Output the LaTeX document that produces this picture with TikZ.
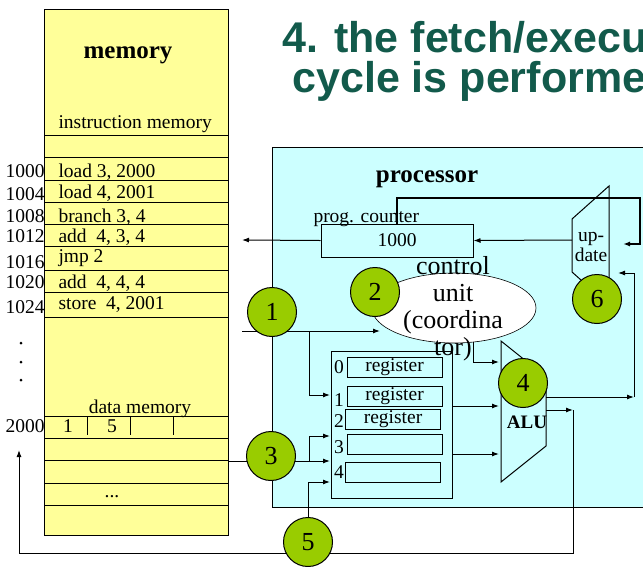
\documentclass[tikz,border=0pt]{standalone}
\usepackage{fontspec}
\setmainfont{Liberation Serif}
\newfontfamily\titlefont{Liberation Sans}
\usepackage{tikz}
\usetikzlibrary{positioning, arrows.meta, shapes.geometric}
\definecolor{memyellow}{HTML}{FFFF99}
\definecolor{procblue}{HTML}{CCFFFF}
\definecolor{stepgreen}{HTML}{99CC00}
\definecolor{titlegreen}{HTML}{125A4B}

\begin{document}
\begin{tikzpicture}[x=1pt, y=-1pt, line width=1pt, >={Latex[length=7pt,width=5pt]},
    txt/.style={inner sep=0pt, font=\fontsize{19.5}{20}\selectfont},
    head/.style={inner sep=0pt, font=\fontsize{25}{25}\selectfont\bfseries},
    stepno/.style={circle, draw, fill=stepgreen, minimum size=49pt, inner sep=0pt, font=\fontsize{26}{26}\selectfont},
    regbox/.style={draw, minimum width=95pt, minimum height=20pt, inner sep=0pt, font=\fontsize{19.5}{20}\selectfont}]
    \useasboundingbox (0,0) rectangle (643,566);
    \clip (0,0) rectangle (643,566);

    % step positions
    \coordinate (c1) at (272,312);
    \coordinate (c2) at (375,292);
    \coordinate (c3) at (271,456);
    \coordinate (c4) at (523,383);
    \coordinate (c5) at (308,542);
    \coordinate (c6) at (597,299);

    \node[anchor=base west, inner sep=0pt, text=titlegreen, font=\titlefont\fontsize{43}{43}\selectfont\bfseries] (title1) at (282,52) {4. the fetch/execute};
    \node[anchor=base west, inner sep=0pt, text=titlegreen, font=\titlefont\fontsize{43}{43}\selectfont\bfseries] (title2) at (292,92) {cycle is performed};

    % memory
    \node[draw, line width=1.3pt, fill=memyellow, minimum width=184, minimum height=526, anchor=north west, inner sep=0pt] (mem) at (44,9) {};
    \foreach \y in {135,157,180,202,224,246,270,292,317,416,438,460,483,505}
        \draw (44,\y) -- (228,\y);
    \node[head, anchor=base] (memtitle) at (128,58) {memory};
    \foreach \b/\t in {128/instruction memory, 177/{load 3, 2000}, 198/{load 4, 2001}, 222/{branch 3, 4}, 242/{add~ 4, 3, 4}, 262/jmp 2, 288/{add~ 4, 4, 4}, 309/{store~ 4, 2001}}
        \node[txt, anchor=base west] (code\b) at (58,\b) {\t};
    \foreach \b/\a in {177/1000, 200/1004, 222/1008, 242/1012, 268/1016, 288/1020, 313/1024, 432/2000}
        \node[txt, anchor=base east] (addr\a) at (45,\b) {\a};
    \foreach \y in {343,362,380}
        \fill (21,\y) circle (1.5);
    \node[txt, anchor=base] (datatitle) at (140,413) {data memory};
    \foreach \x in {87,130,173}
        \draw (\x,417) -- (\x,435);
    \node[txt, anchor=base] (data1) at (68,432) {1};
    \node[txt, anchor=base] (data2) at (112,432) {5};
    \node[txt, anchor=base] (datamore) at (112,497) {...};

    % processor
    \node[draw, line width=1.3pt, fill=procblue, minimum width=420, minimum height=360, anchor=north west, inner sep=0pt] (proc) at (272,147) {};
    \node[head, anchor=base] (proctitle) at (427,182) {processor};
    \node[txt, anchor=base west] (pclabel) at (313,222) {prog. counter};
    \node[draw, minimum width=152, minimum height=33, inner sep=0pt, font=\fontsize{19.5}{20}\selectfont] (pc) at (397,240.5) {1000};

    % update unit
    \draw (572,219) -- (609,186) -- (609,305) -- (572,272) -- cycle;
    \node[txt, align=center] (upd) at (591,247) {up-\\date};
    \coordinate (updin) at (572,240);
    \coordinate (loopcorner) at (640,198);
    \coordinate (updfb) at (623,244);
    \coordinate (pcout) at (242,240);
    \draw[->] (updin) -- (pc.east);
    \draw[->] (pc.west) -- (pcout);
    \draw[->, line width=2pt] (pc.north) |- (loopcorner) |- (updfb);

    % control unit
    \node[ellipse, draw, fill=white, line width=0.6pt, minimum width=164, minimum height=70] (cu) at (454,308) {};

    % register file
    \node[draw, line width=1.3pt, minimum width=121, minimum height=147, anchor=north west, inner sep=0pt] (regfile) at (331,351) {};
    \foreach \i/\x/\y/\t in {0/394.5/367.5/register, 1/394.5/396/register, 2/393/419/register, 3/394.5/444/, 4/393/472/}
        \node[regbox] (reg\i) at (\x,\y) {\t};
    \foreach \i/\y in {0/367, 1/400, 2/421, 3/447, 4/472}
        \node[txt] (idx\i) at (339,\y) {\i};

    % ALU
    \draw (501,341) -- (546,377) -- (546,446) -- (501,482) -- cycle;
    \node[inner sep=0pt, font=\fontsize{19}{19}\selectfont\bfseries] (alulabel) at (527,422) {ALU};
    \coordinate (cuout) at (473,342);
    \coordinate (aluin0) at (499,362);
    \coordinate (aluin1) at (499,406);
    \coordinate (aluin2) at (499,454);
    \draw[->] (cuout) |- (aluin0);
    \draw[->] (regfile.east |- aluin1) -- (aluin1);
    \draw[->] (regfile.east |- aluin2) -- (aluin2);

    % results
    \coordinate (aluhi) at (546,397);
    \coordinate (fbhi) at (634,397);
    \coordinate (updres) at (618,273);
    \draw[->] (aluhi) -- (fbhi);
    \draw[->] (fbhi) |- (updres);
    \coordinate (alulo) at (546,410);
    \coordinate (fblo) at (573,410);
    \coordinate (busend) at (19,553);
    \coordinate (memin) at (19,450);
    \draw[->] (alulo) -- (fblo);
    \draw[->] (fblo) |- (busend) -- (memin);

    % register inputs
    \coordinate (s1tap) at (242,331);
    \coordinate (s1branch) at (309,331);
    \coordinate (cuin) at (380,331);
    \coordinate (rin1) at (330,395);
    \coordinate (rin3) at (330,436);
    \coordinate (rin4a) at (330,461);
    \coordinate (rin4b) at (330,482);
    \draw[->] (s1tap) -- (cuin);
    \draw[->] (s1branch) |- (rin1);
    \draw[->] (mem.east |- rin4a) -- (rin4a);
    \draw[->] (rin4a -| s1branch) |- (rin3);
    \draw[->] (c5) |- (rin4b);

    \node[align=center, inner sep=0pt, font=\fontsize{26}{27}\selectfont] (cutext) at (453,309) {control\\unit\\(coordina\\tor)};

    % steps
    \foreach \i in {1,...,6}
        \node[stepno] (s\i) at (c\i) {\i};
\end{tikzpicture}
\end{document}
